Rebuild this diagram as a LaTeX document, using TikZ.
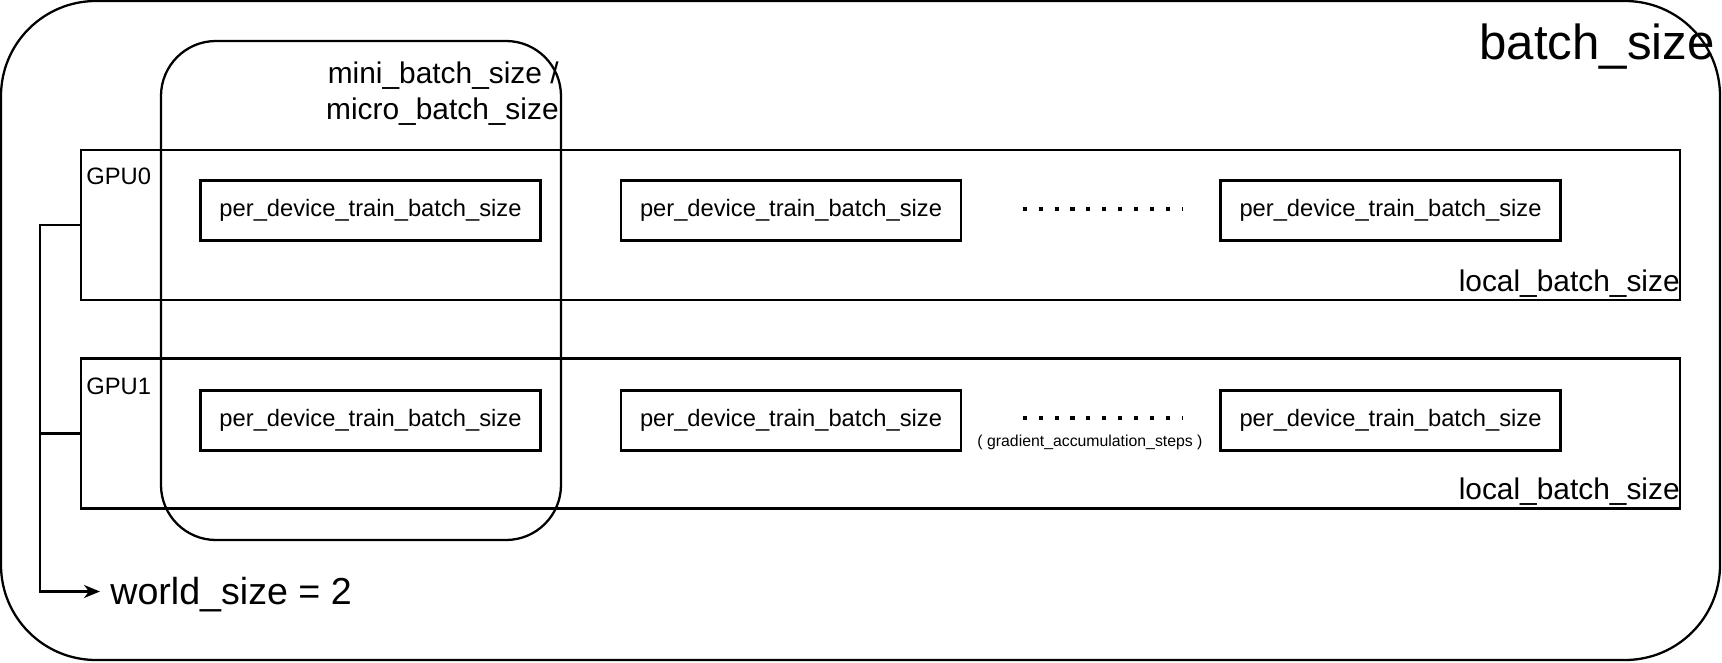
\documentclass[tikz,border=0pt]{standalone}
\usepackage{fontspec}
\setmainfont{Liberation Sans}
\usetikzlibrary{positioning, arrows.meta, calc}

\begin{document}
\begin{tikzpicture}[
  frame/.style={draw, line width=1.3pt, inner sep=0pt},
  devbox/.style={draw, line width=1.3pt, minimum width=6.8cm,
    minimum height=1.2cm, inner sep=0pt, font=\fontsize{13.5}{16}\selectfont},
  note/.style={inner sep=0pt, font=\fontsize{17}{20.4}\selectfont},
  gpulabel/.style={inner sep=0pt, anchor=west, font=\fontsize{13.5}{16}\selectfont},
  dots/.style={line width=2.3pt, dash pattern=on 2.3pt off 6.77pt},
  arrow/.style={-{Stealth[length=3.2mm, width=2.6mm, inset=1mm]}, line width=1.3pt}
]
\useasboundingbox (0,0) rectangle (34.44,13.24);

% groups
\node[frame, rounded corners=1.9cm, minimum width=34.38cm,
  minimum height=13.18cm] (batch) at (17.21, 6.63) {};
\node[frame, rounded corners=1.1cm, minimum width=8cm,
  minimum height=9.98cm] (mini) at (7.22, 7.43) {};
\node[frame, minimum width=31.98cm, minimum height=3cm] (gpu0) at (17.61, 8.74) {};
\node[frame, minimum width=31.98cm, minimum height=3cm] (gpu1) at (17.61, 4.57) {};

% labels
\node[note, anchor=east, font=\fontsize{28}{33}\selectfont] (batchlbl) at (34.3, 12.30) {batch\_size};
\node[note, anchor=east, align=right] (minilbl) at (11.18, 11.37)
  {mini\_batch\_size /\\micro\_batch\_size};
\node[note, anchor=east] (local0) at (33.6, 7.56) {local\_batch\_size};
\node[note, anchor=east] (local1) at (33.6, 3.40) {local\_batch\_size};
\node[gpulabel] (gpu0lbl) at (1.72, 9.72) {GPU0};
\node[gpulabel] (gpu1lbl) at (1.72, 5.52) {GPU1};

% per device batches
\node[devbox] (r0a) at (7.41, 9.03) {per\_device\_train\_batch\_size};
\node[devbox] (r0b) at (15.82, 9.03) {per\_device\_train\_batch\_size};
\node[devbox] (r0c) at (27.81, 9.03) {per\_device\_train\_batch\_size};
\node[devbox] (r1a) at (7.41, 4.83) {per\_device\_train\_batch\_size};
\node[devbox] (r1b) at (15.82, 4.83) {per\_device\_train\_batch\_size};
\node[devbox] (r1c) at (27.81, 4.83) {per\_device\_train\_batch\_size};

\draw[dots] ($(r0b.east)+(1.21,0.03)$) -- ($(r0c.west)+(-0.72,0.03)$);
\draw[dots] ($(r1b.east)+(1.21,0.05)$) -- ($(r1c.west)+(-0.72,0.05)$);
\node[inner sep=0pt, font=\fontsize{9}{11}\selectfont] (accum) at (21.8, 4.40)
  {( gradient\_accumulation\_steps )};

% world size bracket
\node[note, anchor=west, inner xsep=0.2cm, font=\fontsize{21.4}{25}\selectfont]
  (world) at (2.0, 1.34) {world\_size = 2};
\draw[line width=1.3pt] (gpu1.west) -- ++(-0.8,0);
\draw[arrow] (gpu0.west) -- ++(-0.8,0) |- ($(world.west)+(0,0.07)$);

\end{tikzpicture}
\end{document}
